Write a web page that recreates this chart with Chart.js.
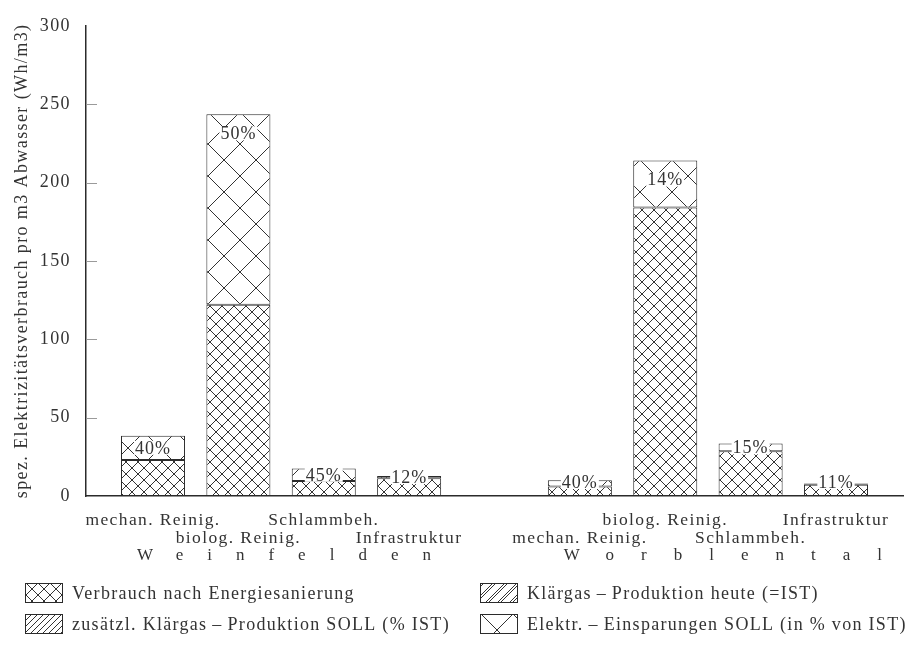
<!DOCTYPE html>
<html><head><meta charset="utf-8">
<script src="https://cdn.jsdelivr.net/npm/chart.js@4"></script>
<style>html,body{margin:0;padding:0;background:#fff}#wrap{width:914px;height:657px}</style>
</head><body><div id="wrap"><canvas id="c" width="914" height="657"></canvas></div>
<script>
// ---- data ----
const categories = ['mechan. Reinig.', 'biolog. Reinig.', 'Schlammbeh.', 'Infrastruktur', '',
                    'mechan. Reinig.', 'biolog. Reinig.', 'Schlammbeh.', 'Infrastruktur'];
const groupNames = ['Weinfelden', 'Worblental'];
const groupMembers = [[0, 1, 2, 3], [5, 6, 7, 8]];
const verbrauch  = [23, 122, 9.5, 11.3, null, 6, 184, 28.5, 7.1];   // Verbrauch nach Energiesanierung
const einsparung = [15.5, 121.5, 8, 1.5, null, 4, 30, 5, 0.9];      // Elektr.-Einsparungen SOLL
const einsparungPct = ['40%', '50%', '45%', '12%', '', '40%', '14%', '15%', '11%'];
const klaergasHeute = [null, null, null, null, null, null, null, null, null];
const klaergasSoll  = [null, null, null, null, null, null, null, null, null];
const yTicks = [0, 50, 100, 150, 200, 250, 300];
const yTitle = 'spez. Elektrizitätsverbrauch pro m3 Abwasser (Wh/m3)';
const legendLabels = ['Verbrauch nach Energiesanierung', 'Elektr.\u2009\u2013\u2009Einsparungen SOLL (in % von IST)',
                      'Klärgas\u2009\u2013\u2009Produktion heute (=IST)', 'zusätzl. Klärgas\u2009\u2013\u2009Produktion SOLL (% IST)'];

// ---- styles ----
const FONT = "'Liberation Serif','Times New Roman',serif";
const INK = '#2b2b2b';
const groupLetterSpacing = [24, 27];
Chart.defaults.font.family = FONT;
Chart.defaults.color = '#333';

function makePattern(size, draw) {
  const c = document.createElement('canvas');
  c.width = size; c.height = size;
  const g = c.getContext('2d');
  g.fillStyle = '#fff'; g.fillRect(0, 0, size, size);
  g.strokeStyle = '#333'; g.lineWidth = 1;
  draw(g, size);
  return document.createElement('canvas').getContext('2d').createPattern(c, 'repeat');
}
function cross(g, s) {
  g.beginPath();
  g.moveTo(-1, -1); g.lineTo(s + 1, s + 1);
  g.moveTo(s + 1, -1); g.lineTo(-1, s + 1);
  g.stroke();
}
function diag(offsets) {
  return (g, s) => {
    g.beginPath();
    offsets.forEach(o => {
      for (let k = -1; k <= 1; k++) {
        g.moveTo(o + k * s - 1, s + 1); g.lineTo(o + k * s + s + 1, -1);
      }
    });
    g.stroke();
  };
}
const patDense = makePattern(12, cross);
const patSparse = makePattern(32, cross);
const patSoll = makePattern(6, diag([0]));
const patHeute = makePattern(12, diag([0, 3]));

const toXY = arr => arr.map((v, i) => v == null ? null : ({x: i, y: v})).filter(p => p);

const datasets = [
  {label: legendLabels[0], data: toXY(verbrauch), backgroundColor: patDense},
  {label: legendLabels[1], data: toXY(einsparung), backgroundColor: patSparse},
  {label: legendLabels[2], data: toXY(klaergasHeute), backgroundColor: patHeute},
  {label: legendLabels[3], data: toXY(klaergasSoll), backgroundColor: patSoll}
].map(d => Object.assign(d, {borderColor: INK, borderWidth: 1, borderSkipped: false,
                              categoryPercentage: 1, barPercentage: 0.75}));

const bgPlugin = {
  id: 'bg',
  beforeDraw(chart) {
    const ctx = chart.ctx;
    ctx.save(); ctx.fillStyle = '#fff'; ctx.fillRect(0, 0, chart.width, chart.height); ctx.restore();
    ctx.letterSpacing = '1.4px';
  }
};

const decoPlugin = {
  id: 'deco',
  afterDatasetsDraw(chart) {
    const ctx = chart.ctx;
    const ys = chart.scales.y;
    // inner tick marks
    ctx.save();
    ctx.strokeStyle = '#9a9a9a'; ctx.lineWidth = 1;
    ys.ticks.forEach(t => {
      if (t.value === ys.min || t.value === ys.max) return;
      const y = Math.round(ys.getPixelForValue(t.value)) + 0.5;
      ctx.beginPath(); ctx.moveTo(ys.right, y); ctx.lineTo(ys.right + 11, y); ctx.stroke();
    });
    ctx.restore();

    // percentage labels in the savings segments
    const meta = chart.getDatasetMeta(1);
    const zero = ys.getPixelForValue(0);
    ctx.save();
    ctx.font = '18px ' + FONT;
    ctx.letterSpacing = '1px';
    ctx.textAlign = 'center'; ctx.textBaseline = 'middle';
    meta.data.forEach((el, i) => {
      const idx = meta._parsed[i].x;
      const txt = einsparungPct[idx];
      if (!txt) return;
      const top = Math.min(el.y, el.base), bot = Math.max(el.y, el.base);
      let cy = Math.min(top + 19, (top + bot) / 2);
      cy = Math.min(cy, zero - 14);
      const w = ctx.measureText(txt).width;
      ctx.fillStyle = '#fff';
      ctx.fillRect(el.x - w / 2 - 1, cy - 7, w + 2, 14);
      ctx.fillStyle = '#333';
      ctx.fillText(txt, el.x, cy + 1);
    });
    ctx.restore();
  },
  afterDraw(chart) {
    const ctx = chart.ctx;
    const xs = chart.scales.x;
    const barMeta = chart.getDatasetMeta(0);
    // group names, letter-spaced, starting under the group's first bar
    ctx.save();
    ctx.font = '17px ' + FONT;
    ctx.fillStyle = '#333';
    ctx.textBaseline = 'middle'; ctx.textAlign = 'left';
    groupNames.forEach((name, g) => {
      const first = groupMembers[g][0];
      const el = barMeta.data.find((e, i) => barMeta._parsed[i].x === first);
      const left = el.x - el.width / 2;
      ctx.letterSpacing = groupLetterSpacing[g] + 'px';
      ctx.fillText(name, left + 16, xs.top + 15 + 9 + 36);
    });
    ctx.restore();

    // legend (2 x 2)
    const items = [
      {ds: 0, x: 25, y: 583}, {ds: 2, x: 480, y: 583},
      {ds: 3, x: 25, y: 614}, {ds: 1, x: 480, y: 614}
    ];
    ctx.save();
    ctx.font = '18px ' + FONT;
    ctx.letterSpacing = '1.3px';
    ctx.textBaseline = 'middle'; ctx.textAlign = 'left';
    items.forEach(it => {
      const d = chart.data.datasets[it.ds];
      const pat = d.backgroundColor;
      if (pat.setTransform) pat.setTransform(new DOMMatrix([1, 0, 0, 1, it.x + 1, it.y]));
      ctx.fillStyle = pat;
      ctx.fillRect(it.x, it.y, 37, 19);
      if (pat.setTransform) pat.setTransform(new DOMMatrix());
      ctx.strokeStyle = INK; ctx.lineWidth = 1;
      ctx.strokeRect(it.x + 0.5, it.y + 0.5, 37, 19);
      ctx.fillStyle = '#333';
      ctx.fillText(d.label, it.x + 47, it.y + 11);
    });
    ctx.restore();
  }
};

new Chart(document.getElementById('c'), {
  type: 'bar',
  data: {datasets},
  plugins: [bgPlugin, decoPlugin],
  options: {
    responsive: false,
    devicePixelRatio: 1,
    animation: false,
    layout: {padding: {top: 18, right: 11, left: 0, bottom: 0}},
    plugins: {legend: {display: false}, tooltip: {enabled: false}},
    scales: {
      x: {
        type: 'linear',
        stacked: true,
        offset: false,
        min: -0.785, max: categories.length - 1 + 0.785,
        afterBuildTicks: s => { s.ticks = categories.map((c, i) => ({value: i})).filter(t => categories[t.value]); },
        afterFit: s => { s.height = 161; },
        grid: {display: false, drawTicks: false, offset: false},
        border: {display: true, color: INK, width: 1.5},
        ticks: {
          autoSkip: false, maxRotation: 0, minRotation: 0, padding: 15,
          font: {size: 17.5, lineHeight: 18 / 17.5}, color: '#333',
          callback: v => {
            const g = groupMembers.findIndex(m => m.includes(v));
            if (g < 0) return '';
            const pos = groupMembers[g].indexOf(v);
            const row = (pos + g) % 2;
            return row === 0 ? [categories[v]] : ['', categories[v]];
          }
        }
      },
      y: {
        stacked: true,
        min: 0, max: 300,
        afterBuildTicks: s => { s.ticks = yTicks.map(v => ({value: v})); },
        afterFit: s => { s.width = 86; },
        grid: {display: false, drawTicks: false},
        border: {display: true, color: INK, width: 1.5},
        ticks: {padding: 15, font: {size: 18}, color: '#333'},
        title: {display: true, text: yTitle, font: {size: 18}, color: '#333', padding: {top: 11, bottom: 0}}
      }
    }
  }
});
</script>
</body></html>
